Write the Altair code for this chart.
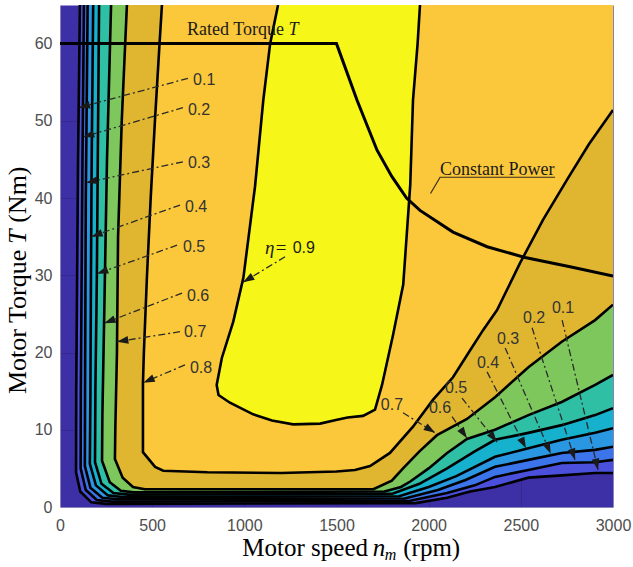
import math
import altair as alt
import pandas as pd

# ---------------- data ----------------
LEVELS = [0.1, 0.2, 0.3, 0.4, 0.5, 0.6, 0.7, 0.8, 0.9]

# efficiency contour lines: speed (rpm) and torque (Nm)
C01_N = [108, 98, 88, 87, 110, 170, 250, 1930, 2100, 2225, 2360, 2541, 2722, 2903, 3000]
C01_T = [65, 45, 15, 4.5, 2.0, 0.6, 0.4, 0.5, 1.2, 2.0, 2.6, 3.8, 4.1, 4.4, 4.4]
C02_N = [130, 122, 113, 112, 140, 200, 280, 1900, 2100, 2250, 2360, 2541, 2722, 2903, 3000]
C02_T = [65, 45, 15, 5.0, 2.2, 0.9, 0.7, 0.8, 1.8, 2.8, 3.9, 4.8, 5.7, 5.8, 6.1]
C03_N = [150, 140, 136, 135, 165, 230, 310, 1870, 2050, 2200, 2360, 2541, 2722, 2903, 3000]
C03_T = [65, 40, 15, 5.3, 2.5, 1.2, 1.0, 1.1, 2.2, 3.5, 5.2, 6.1, 7.0, 7.4, 7.8]
C04_N = [180, 172, 168, 165, 162, 195, 260, 340, 1840, 2000, 2150, 2360, 2541, 2722, 2903, 3000]
C04_T = [65, 45, 30, 15, 5.6, 2.8, 1.5, 1.3, 1.4, 2.6, 4.0, 6.5, 7.6, 8.7, 9.6, 10.2]
C05_N = [212, 205, 200, 192, 190, 225, 290, 370, 1800, 1950, 2100, 2250, 2360, 2541, 2722, 2903, 3000]
C05_T = [65, 45, 30, 15, 5.8, 3.0, 1.8, 1.6, 1.7, 3.0, 5.0, 7.2, 8.7, 9.6, 10.6, 11.9, 12.8]
C06_N = [277, 255, 240, 230, 228, 270, 330, 400, 1760, 1850, 1900, 2000, 2100, 2208, 2360, 2541, 2722, 2903, 3000]
C06_T = [65, 45, 25, 12, 6.0, 3.2, 2.1, 1.9, 2.0, 2.6, 3.3, 5.0, 7.0, 8.8, 10.0, 11.9, 13.6, 15.8, 17.1]
C07_N = [363, 335, 315, 309, 300, 298, 340, 396, 460, 1700, 1800, 1861, 1950, 2045, 2208, 2360, 2541, 2722, 2903, 3000]
C07_T = [65, 50, 35, 20, 10, 6.2, 3.8, 2.6, 2.3, 2.3, 3.4, 5.0, 7.2, 9.3, 11.4, 14.2, 18.1, 21.4, 24.2, 26.2]
C08_N = [553, 540, 515, 492, 472, 455, 450, 450, 516, 560, 800, 1200, 1500, 1600, 1682, 1790, 1915,
         2024, 2132, 2225, 2295, 2371, 2496, 2621, 2751, 2870, 3000]
C08_T = [65, 60, 50, 40, 30, 20, 16, 7.1, 5.2, 4.7, 4.5, 4.4, 4.6, 4.8, 5.3, 7.0, 10.4,
         13.9, 16.8, 20.3, 22.9, 25.5, 31.6, 37.2, 42.4, 47.0, 51.4]
C09_N = [1183, 1140, 1103, 1058, 995, 940, 878, 850, 860, 922, 1048, 1150, 1265, 1411, 1503, 1560,
         1644, 1709, 1747, 1807, 1862, 1900, 1915, 1940, 1953]
C09_T = [65, 60, 52.7, 41.5, 29.7, 24, 19.3, 15.8, 14.5, 13.5, 12.0, 11.2, 10.7, 10.8, 11.3, 11.6,
         11.8, 12.6, 15.8, 22.3, 28.8, 41.7, 52.7, 60, 65]

# rated torque + constant power curve
POWER_N = [0, 1500, 1611, 1720, 1800, 1880, 1953, 2132, 2317, 2523, 2767, 3000]
POWER_T = [60, 60, 52.7, 46.2, 42.8, 40.0, 38.4, 35.6, 33.7, 32.3, 31.1, 29.9]

# band colours: below 0.1, 0.1-0.2, ..., 0.8-0.9, above 0.9
BAND_COLORS = ["#3D2FA5", "#4A50DC", "#3C74EC", "#2A97E2", "#16B1CC",
               "#2FBFA5", "#7DC75D", "#E0B631", "#FAC83A", "#F7F619"]

# level labels (text anchor) and their dash-dot leader lines
LABEL_TEXT = ["0.1", "0.2", "0.3", "0.4", "0.5", "0.6", "0.7", "0.8",
              "0.7", "0.6", "0.5", "0.4", "0.3", "0.2", "0.1"]
LABEL_N = [722, 694, 694, 678, 667, 689, 673, 705,
           1801, 2062, 2149, 2322, 2431, 2572, 2729]
LABEL_T = [55.3, 51.4, 44.5, 38.8, 33.7, 27.3, 22.7, 18.0,
           13.2, 12.8, 15.4, 18.6, 21.8, 24.5, 25.8]
LABEL_ALIGN = ["left"] * 8 + ["center"] * 7
ARROW_N0 = [694, 667, 667, 651, 635, 662, 651, 678,
            1861, 2127, 2181, 2317, 2415, 2561, 2724, 1221]
ARROW_T0 = [55.5, 51.7, 44.7, 39.1, 33.9, 27.7, 22.7, 18.4,
            12.2, 11.7, 14.1, 17.5, 20.6, 23.2, 24.2, 32.4]
ARROW_N1 = [101, 124, 142, 170, 200, 240, 309, 452,
            2035, 2208, 2371, 2528, 2662, 2794, 2919, 993]
ARROW_T1 = [51.7, 47.9, 42.0, 35.0, 30.2, 23.8, 21.4, 16.1,
            9.6, 8.9, 8.4, 7.6, 6.9, 6.1, 4.8, 29.1]

# ---------------- build tables ----------------
CONTOURS = {0.1: (C01_N, C01_T), 0.2: (C02_N, C02_T), 0.3: (C03_N, C03_T),
            0.4: (C04_N, C04_T), 0.5: (C05_N, C05_T), 0.6: (C06_N, C06_T),
            0.7: (C07_N, C07_T), 0.8: (C08_N, C08_T), 0.9: (C09_N, C09_T)}
X_MAX, Y_MAX = 3000, 65

line_rows, fill_rows = [], []
for lev in LEVELS:
    ns, ts = CONTOURS[lev]
    for i, (n, t) in enumerate(zip(ns, ts)):
        line_rows.append({"level": lev, "i": i, "rpm": n, "T": t})
        fill_rows.append({"level": lev, "i": i, "rpm": n, "T": t})
    if lev < 0.9:  # close the region along the top-right corner of the plot
        fill_rows.append({"level": lev, "i": len(ns), "rpm": X_MAX, "T": Y_MAX})
lines_df = pd.DataFrame(line_rows)
fill_df = pd.DataFrame(fill_rows)
power_df = pd.DataFrame({"i": range(len(POWER_N)), "rpm": POWER_N, "T": POWER_T})

labels_df = pd.DataFrame({"text": LABEL_TEXT, "rpm": LABEL_N, "T": LABEL_T, "align": LABEL_ALIGN})
arrow_rows, head_rows = [], []
SX, SY = 553 / X_MAX, 502 / Y_MAX
for k in range(len(ARROW_N0)):
    arrow_rows.append({"id": k, "i": 0, "rpm": ARROW_N0[k], "T": ARROW_T0[k]})
    arrow_rows.append({"id": k, "i": 1, "rpm": ARROW_N1[k], "T": ARROW_T1[k]})
    dx = (ARROW_N1[k] - ARROW_N0[k]) * SX
    dy = -(ARROW_T1[k] - ARROW_T0[k]) * SY
    ang = math.degrees(math.atan2(dy, dx)) % 360
    head_rows.append({"rpm": ARROW_N1[k], "T": ARROW_T1[k], "angle": ang})
arrows_df = pd.DataFrame(arrow_rows)
heads_df = pd.DataFrame(head_rows)

X = alt.X("rpm:Q", scale=alt.Scale(domain=[0, X_MAX], nice=False, zero=False),
          axis=alt.Axis(values=[0, 500, 1000, 1500, 2000, 2500, 3000], title=None, format="d",
                        labelFlush=False, labelPadding=10))
Y = alt.Y("T:Q", scale=alt.Scale(domain=[0, Y_MAX], nice=False, zero=False),
          axis=alt.Axis(values=[0, 10, 20, 30, 40, 50, 60], title=None, format="d",
                        labelFlush=False, labelPadding=8))

layers = []
for k, lev in enumerate(LEVELS):
    layers.append(
        alt.Chart(fill_df[fill_df["level"] == lev])
        .mark_line(fill=BAND_COLORS[k + 1], strokeOpacity=0, clip=True)
        .encode(x=X, y=Y, order="i:Q")
    )

layers.append(
    alt.Chart(lines_df).mark_line(color="black", strokeWidth=2.6, clip=True)
    .encode(x=X, y=Y, detail="level:N", order="i:Q")
)
layers.append(
    alt.Chart(power_df).mark_line(color="black", strokeWidth=3, clip=True)
    .encode(x=X, y=Y, order="i:Q")
)
layers.append(
    alt.Chart(arrows_df).mark_line(color="#2a2a2a", strokeWidth=1.3, strokeDash=[7, 3, 2, 3])
    .encode(x=X, y=Y, detail="id:N", order="i:Q")
)
layers.append(
    alt.Chart(heads_df).mark_point(shape="M0,0 L-1,-0.34 L-1,0.34 Z", filled=True,
                                   color="#1a1a1a", opacity=1, size=520)
    .encode(x=X, y=Y, angle=alt.Angle("angle:Q", scale=None))
)
for al in ["left", "center"]:
    layers.append(
        alt.Chart(labels_df[labels_df["align"] == al])
        .mark_text(align=al, baseline="middle", font="Liberation Sans", fontSize=16, color="#333333")
        .encode(x=X, y=Y, text="text:N")
    )

# annotation texts (placed in data coordinates)
ANN_TEXT = ["Rated Torque", "T", "Constant Power", "\u03b7=", "0.9"]
ANN_N = [689, 1240, 2062, 1112, 1262]
ANN_T = [61.8, 61.8, 43.6, 33.5, 33.5]
ANN_STYLE = ["normal", "italic", "normal", "italic", "normal"]
ANN_FONT = ["Liberation Serif", "Liberation Serif", "Liberation Serif", "Liberation Serif", "Liberation Sans"]
ANN_SIZE = [18, 18, 18, 19, 16]
for t, n, v, st, fo, sz in zip(ANN_TEXT, ANN_N, ANN_T, ANN_STYLE, ANN_FONT, ANN_SIZE):
    layers.append(
        alt.Chart(pd.DataFrame({"rpm": [n], "T": [v], "text": [t]}))
        .mark_text(align="left", baseline="middle", font=fo, fontSize=sz, fontStyle=st, color="#1a1a1a")
        .encode(x=X, y=Y, text="text:N")
    )
UNDER_N = [2010, 2062, 2686]
UNDER_T = [40.6, 42.7, 42.7]
layers.append(
    alt.Chart(pd.DataFrame({"i": [0, 1, 2], "rpm": UNDER_N, "T": UNDER_T}))
    .mark_line(color="#3a2a1a", strokeWidth=1.2)
    .encode(x=X, y=Y, order="i:Q")
)

# axis titles as text pieces (mixed italic)
XT_TEXT = ["Motor speed", "n", "m", "(rpm)"]
XT_N = [1671, 1696, 1762, 1862]
XT_T = [-6.34, -6.34, -6.9, -6.34]
XT_ALIGN = ["right", "left", "left", "left"]
XT_STYLE = ["normal", "italic", "italic", "normal"]
XT_SIZE = [25, 25, 16, 25]
for t, n, v, al, st, sz in zip(XT_TEXT, XT_N, XT_T, XT_ALIGN, XT_STYLE, XT_SIZE):
    layers.append(
        alt.Chart(pd.DataFrame({"rpm": [n], "T": [v], "text": [t]}))
        .mark_text(align=al, baseline="alphabetic", font="Liberation Serif", fontSize=sz,
                   fontStyle=st, color="black")
        .encode(x=X, y=Y, text="text:N")
    )
YT_TEXT = ["Motor Torque", "T", "(Nm)"]
YT_N = [-228, -228, -228]
YT_T = [33.3, 34.05, 36.8]
YT_ALIGN = ["right", "left", "left"]
YT_STYLE = ["normal", "italic", "normal"]
for t, n, v, al, st in zip(YT_TEXT, YT_N, YT_T, YT_ALIGN, YT_STYLE):
    layers.append(
        alt.Chart(pd.DataFrame({"rpm": [n], "T": [v], "text": [t]}))
        .mark_text(align=al, baseline="middle", font="Liberation Serif", fontSize=26,
                   fontStyle=st, angle=270, color="black")
        .encode(x=X, y=Y, text="text:N")
    )

chart = (
    alt.layer(*layers)
    .properties(width=553, height=502,
                autosize=alt.AutoSizeParams(type="none"),
                padding={"left": 60, "top": 5, "right": 20, "bottom": 60},
                background="white")
    .configure_view(fill=BAND_COLORS[0], stroke="transparent")
    .configure_axis(grid=True, gridColor="black", gridOpacity=0.12, zindex=1, domain=False,
                    ticks=False, labelFont="Liberation Sans", labelFontSize=16,
                    labelColor="#4d4d4d")
)
chart.save("out.html", embed_options={"renderer": "svg", "actions": False})
